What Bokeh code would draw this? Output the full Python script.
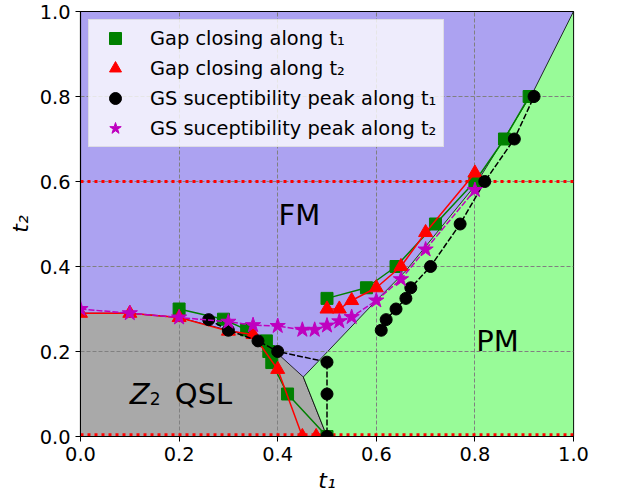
from bokeh.plotting import figure
from bokeh.models import Legend, LegendItem, Range1d, FixedTicker, PrintfTickFormatter
from bokeh.embed import file_html
from bokeh.resources import INLINE
from bokeh.core.properties import value

# ---------------- data ----------------
tick_values = [0.0, 0.2, 0.4, 0.6, 0.8, 1.0]

# Gap closing along t1 (green squares)
gap_t1_lower_x = [0.2, 0.29, 0.337, 0.377, 0.382, 0.388, 0.42, 0.5]
gap_t1_lower_y = [0.3, 0.276, 0.251, 0.225, 0.2, 0.174, 0.1, 0.0]
gap_t1_upper_x = [0.5, 0.58, 0.64, 0.72, 0.8, 0.86, 0.91]
gap_t1_upper_y = [0.325, 0.35, 0.4, 0.5, 0.6, 0.7, 0.8]

# Gap closing along t2 (red triangles)
gap_t2_lower_x = [0.0, 0.1, 0.2, 0.3, 0.35, 0.4, 0.45, 0.478]
gap_t2_lower_y = [0.29, 0.29, 0.28, 0.248, 0.24, 0.158, 0.0, 0.0]
gap_t2_upper_x = [0.5, 0.525, 0.55, 0.6, 0.65, 0.7, 0.8]
gap_t2_upper_y = [0.3, 0.3, 0.32, 0.35, 0.4, 0.48, 0.62]

# GS susceptibility peak along t1 (black circles)
sus_t1_lower_x = [0.26, 0.3, 0.36, 0.4, 0.5, 0.5, 0.5]
sus_t1_lower_y = [0.275, 0.25, 0.225, 0.2, 0.175, 0.1, 0.0]
sus_t1_upper_x = [0.61, 0.62, 0.64, 0.66, 0.67, 0.71, 0.77, 0.82, 0.88, 0.92]
sus_t1_upper_y = [0.25, 0.275, 0.3, 0.325, 0.35, 0.4, 0.5, 0.6, 0.7, 0.8]

# GS susceptibility peak along t2 (magenta stars)
sus_t2_x = [0.0, 0.1, 0.2, 0.3, 0.35, 0.4, 0.45, 0.475, 0.5, 0.525, 0.55, 0.6, 0.65, 0.7, 0.8]
sus_t2_y = [0.3, 0.29, 0.28, 0.27, 0.262, 0.26, 0.251, 0.251, 0.261, 0.271, 0.281, 0.32, 0.37, 0.44, 0.58]

# reference lines (red dotted)
ref_t2_levels = [0.004, 0.6]

# phase regions
qsl_x = [0.0, 0.0, 0.1, 0.2, 0.3, 0.35, 0.4, 0.452, 0.5]
qsl_y = [0.0, 0.29, 0.29, 0.28, 0.25, 0.238, 0.195, 0.14, 0.0]
pm_x = [0.5, 0.452, 0.6, 0.66, 0.8, 0.92, 1.0, 1.0]
pm_y = [0.0, 0.14, 0.32, 0.39, 0.59, 0.815, 1.0, 0.0]

# phase labels
phase_names = ["FM", "PM"]
phase_x = [0.444, 0.846]
phase_y = [0.522, 0.224]
qsl_label_x = [0.1]
qsl_label_y = [0.1]

legend_labels = [
    "Gap closing along t\u2081",
    "Gap closing along t\u2082",
    "GS suceptibility peak along t\u2081",
    "GS suceptibility peak along t\u2082",
]

# ---------------- figure ----------------
FONT = "DejaVu Sans"
FM_COLOR = "#aca2f1"
PM_COLOR = "#98fb98"
QSL_COLOR = "#a9a9a9"
GREEN = "#008000"
RED = "#ff0000"
BLACK = "#000000"
MAGENTA = "#bf00bf"

p = figure(width=618, height=495, output_backend="svg", toolbar_location=None,
           x_range=Range1d(0, 1), y_range=Range1d(0, 1),
           min_border_left=80, min_border_right=45, min_border_top=11, min_border_bottom=58)
p.background_fill_color = FM_COLOR
p.border_fill_color = "white"
p.outline_line_color = "black"
p.outline_line_width = 1.2

# regions
p.patch(qsl_x, qsl_y, fill_color=QSL_COLOR, line_color="black", line_width=0.8, level="image")
p.patch(pm_x, pm_y, fill_color=PM_COLOR, line_color="black", line_width=0.8, level="image")

# grid
for g in (p.xgrid, p.ygrid):
    g.ticker = FixedTicker(ticks=tick_values)
    g.grid_line_color = "#808080"
    g.grid_line_dash = "4 2"
    g.grid_line_width = 1

# red dotted reference lines
for lvl in ref_t2_levels:
    p.line([0, 1], [lvl, lvl], line_color=RED, line_width=3, line_dash="3 4")

DASH = "6 2"
# green
p.line(gap_t1_lower_x, gap_t1_lower_y, line_color=GREEN, line_width=1.5)
p.line(gap_t1_upper_x, gap_t1_upper_y, line_color=GREEN, line_width=1.5)
r_green = p.scatter(gap_t1_lower_x + gap_t1_upper_x, gap_t1_lower_y + gap_t1_upper_y,
                    marker="square", size=12, fill_color=GREEN, line_color=GREEN)
# red
p.line(gap_t2_lower_x, gap_t2_lower_y, line_color=RED, line_width=1.5)
p.line(gap_t2_upper_x, gap_t2_upper_y, line_color=RED, line_width=1.5)
r_red = p.scatter(gap_t2_lower_x + gap_t2_upper_x, gap_t2_lower_y + gap_t2_upper_y,
                  marker="triangle", size=14, fill_color=RED, line_color=RED)
# black
p.line(sus_t1_lower_x, sus_t1_lower_y, line_color=BLACK, line_width=1.5, line_dash=DASH)
p.line(sus_t1_upper_x, sus_t1_upper_y, line_color=BLACK, line_width=1.5, line_dash=DASH)
r_black = p.scatter(sus_t1_lower_x + sus_t1_upper_x, sus_t1_lower_y + sus_t1_upper_y,
                    marker="circle", size=12, fill_color=BLACK, line_color=BLACK)
# magenta
p.line(sus_t2_x, sus_t2_y, line_color=MAGENTA, line_width=1.5, line_dash=DASH)
r_mag = p.scatter(sus_t2_x, sus_t2_y, marker="star", size=16, fill_color=MAGENTA, line_color=MAGENTA)

# phase labels
p.text(phase_x, phase_y, text=phase_names, text_font=value(FONT), text_font_size="29px",
       text_align="center", text_baseline="middle", text_color="black")
p.text(qsl_label_x, qsl_label_y, text=["Z"], text_font=value(FONT), text_font_size="29px",
       text_font_style="italic", text_align="left", text_baseline="alphabetic", text_color="black")
p.text(qsl_label_x, qsl_label_y, text=["2"], text_font=value(FONT), text_font_size="17px",
       text_align="left", text_baseline="alphabetic", text_color="black", x_offset=20, y_offset=4)
p.text(qsl_label_x, qsl_label_y, text=["QSL"], text_font=value(FONT), text_font_size="29px",
       text_align="left", text_baseline="alphabetic", text_color="black", x_offset=45)

# axes
for ax in (p.xaxis[0], p.yaxis[0]):
    ax.ticker = FixedTicker(ticks=tick_values)
    ax.formatter = PrintfTickFormatter(format="%.1f")
    ax.major_tick_out = 5
    ax.major_tick_in = 0
    ax.minor_tick_out = 0
    ax.minor_tick_in = 0
    ax.major_label_text_font = FONT
    ax.major_label_text_font_size = "19.4px"
    ax.major_label_text_color = "black"
    ax.axis_line_color = "black"
    ax.major_tick_line_color = "black"
    ax.axis_label_text_font = FONT
    ax.axis_label_text_font_size = "22px"
    ax.axis_label_text_font_style = "italic"
    ax.axis_label_text_color = "black"
    ax.axis_label_standoff = 4
p.xaxis.axis_label = "t\u2081"
p.yaxis.axis_label = "t\u2082"

legend = Legend(items=[
    LegendItem(label=legend_labels[0], renderers=[r_green]),
    LegendItem(label=legend_labels[1], renderers=[r_red]),
    LegendItem(label=legend_labels[2], renderers=[r_black]),
    LegendItem(label=legend_labels[3], renderers=[r_mag]),
])
legend.location = "top_left"
legend.margin = 8
legend.padding = 3
legend.spacing = 0
legend.glyph_height = 30
legend.glyph_width = 46
legend.label_height = 30
legend.label_standoff = 12
legend.label_width = 290
legend.label_text_font = FONT
legend.label_text_font_size = "19.4px"
legend.label_text_color = "black"
legend.background_fill_color = "white"
legend.background_fill_alpha = 0.8
legend.border_line_color = "#cccccc"
legend.border_line_width = 1
p.add_layout(legend)

open("out.html", "w").write(file_html(p, INLINE))
